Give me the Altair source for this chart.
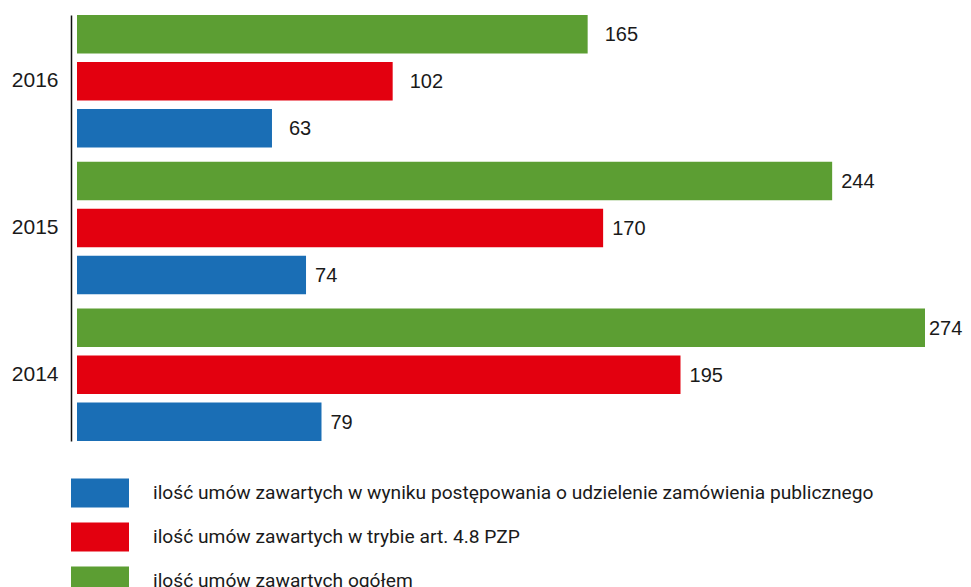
import altair as alt
import pandas as pd

years = ["2016", "2015", "2014"]
s_blue = "ilość umów zawartych w wyniku postępowania o udzielenie zamówienia publicznego"
s_red = "ilość umów zawartych w trybie art. 4.8 PZP"
s_green = "ilość umów zawartych ogółem"
total = [165, 244, 274]
art48 = [102, 170, 195]
postep = [63, 74, 79]

series_legend = [s_blue, s_red, s_green]
series_bars = [s_green, s_red, s_blue]
colors = ["#1a6eb5", "#e3000f", "#5c9e33"]

rows = []
for i, y in enumerate(years):
    rows.append({"year": y, "series": s_green, "value": total[i]})
    rows.append({"year": y, "series": s_red, "value": art48[i]})
    rows.append({"year": y, "series": s_blue, "value": postep[i]})
df = pd.DataFrame(rows)

yenc = alt.Y("year:N", sort=years,
             scale=alt.Scale(paddingInner=0.096, paddingOuter=0),
             axis=alt.Axis(title=None, ticks=False, domainColor="#111111", domainWidth=1.5,
                           labelFontSize=21, labelFont="Liberation Sans", labelPadding=13,
                           offset=6, labelColor="#1a1a1a"))
yoff = alt.YOffset("series:N", sort=series_bars,
                   scale=alt.Scale(paddingInner=0.18, paddingOuter=0))
xenc = alt.X("value:Q", scale=alt.Scale(domain=[0, 274], nice=False, zero=True), axis=None)

base = alt.Chart(df)

bars = base.mark_bar().encode(
    y=yenc, yOffset=yoff, x=xenc,
    color=alt.Color("series:N", scale=alt.Scale(domain=series_legend, range=colors),
                    legend=alt.Legend(orient="none", legendX=-6, legendY=449, title=None,
                                      symbolType="M-1,-0.5H1V0.5H-1Z", symbolSize=3364,
                                      symbolStrokeWidth=0, symbolOpacity=1,
                                      labelFontSize=19.2, labelFont="Roboto", labelColor="#1a1a1a",
                                      labelOffset=24, rowPadding=0, labelLimit=2000,
                                      padding=0))
)

text16 = base.transform_filter(alt.datum.year == "2016").mark_text(
    align="left", baseline="middle", dx=17, dy=1, fontSize=20, font="Liberation Sans", color="#1a1a1a"
).encode(y=yenc, yOffset=yoff, x=xenc, text="value:Q")

text_other = base.transform_filter(
    (alt.datum.year != "2016") & (alt.datum.value < 270)
).mark_text(
    align="left", baseline="middle", dx=9, dy=1, fontSize=20, font="Liberation Sans", color="#1a1a1a"
).encode(y=yenc, yOffset=yoff, x=xenc, text="value:Q")

text_max = base.transform_filter(alt.datum.value >= 270).mark_text(
    align="left", baseline="middle", dx=4, dy=1, fontSize=20, font="Liberation Sans", color="#1a1a1a"
).encode(y=yenc, yOffset=yoff, x=xenc, text="value:Q")

chart = alt.layer(bars, text16, text_other, text_max).properties(
    width=848, height=426,
    autosize=alt.AutoSizeParams(type="none"),
    padding={"left": 69, "top": 7, "right": 38, "bottom": 146},
).configure(background="white").configure_view(strokeWidth=0, stroke=None)

chart.save("out.html", embed_options={"renderer": "svg", "actions": False})
